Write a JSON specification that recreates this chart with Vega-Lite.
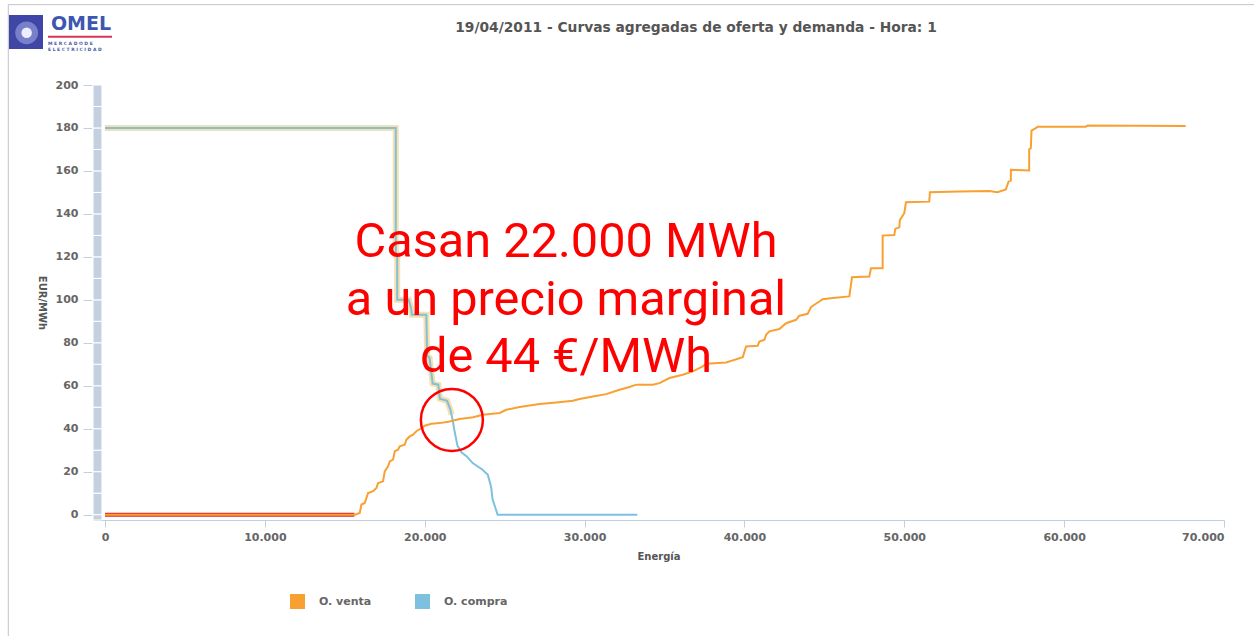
{
  "$schema": "https://vega.github.io/schema/vega-lite/v6.json",
  "width": 1131,
  "height": 435,
  "autosize": {"type": "none"},
  "padding": {"left": 93, "top": 85, "right": 30, "bottom": 116},
  "background": "white",
  "datasets": {
    "curvas": [
      {"serie": "O. venta", "energia": 0, "precio": 0},
      {"serie": "O. venta", "energia": 15625, "precio": 0},
      {"serie": "O. venta", "energia": 15937, "precio": 0.8},
      {"serie": "O. venta", "energia": 16042, "precio": 4.7},
      {"serie": "O. venta", "energia": 16250, "precio": 5.4},
      {"serie": "O. venta", "energia": 16458, "precio": 10.1},
      {"serie": "O. venta", "energia": 16771, "precio": 10.9},
      {"serie": "O. venta", "energia": 16979, "precio": 12.4},
      {"serie": "O. venta", "energia": 17083, "precio": 14.7},
      {"serie": "O. venta", "energia": 17396, "precio": 15.5},
      {"serie": "O. venta", "energia": 17500, "precio": 20.1},
      {"serie": "O. venta", "energia": 17708, "precio": 22.5},
      {"serie": "O. venta", "energia": 17812, "precio": 24.8},
      {"serie": "O. venta", "energia": 18021, "precio": 25.6},
      {"serie": "O. venta", "energia": 18125, "precio": 29.5},
      {"serie": "O. venta", "energia": 18333, "precio": 30.2},
      {"serie": "O. venta", "energia": 18437, "precio": 31.8},
      {"serie": "O. venta", "energia": 18750, "precio": 32.6},
      {"serie": "O. venta", "energia": 18854, "precio": 34.9},
      {"serie": "O. venta", "energia": 19062, "precio": 36.4},
      {"serie": "O. venta", "energia": 19271, "precio": 37.2},
      {"serie": "O. venta", "energia": 19479, "precio": 38.8},
      {"serie": "O. venta", "energia": 19792, "precio": 40.3},
      {"serie": "O. venta", "energia": 20000, "precio": 41.4},
      {"serie": "O. venta", "energia": 20417, "precio": 42.3},
      {"serie": "O. venta", "energia": 20937, "precio": 42.6},
      {"serie": "O. venta", "energia": 21562, "precio": 43.4},
      {"serie": "O. venta", "energia": 22187, "precio": 44.5},
      {"serie": "O. venta", "energia": 23021, "precio": 45.3},
      {"serie": "O. venta", "energia": 23646, "precio": 46.5},
      {"serie": "O. venta", "energia": 24687, "precio": 47.3},
      {"serie": "O. venta", "energia": 25104, "precio": 48.8},
      {"serie": "O. venta", "energia": 25937, "precio": 50.1},
      {"serie": "O. venta", "energia": 27187, "precio": 51.5},
      {"serie": "O. venta", "energia": 28229, "precio": 52.2},
      {"serie": "O. venta", "energia": 29271, "precio": 53},
      {"serie": "O. venta", "energia": 29687, "precio": 53.8},
      {"serie": "O. venta", "energia": 30521, "precio": 55},
      {"serie": "O. venta", "energia": 31354, "precio": 56.1},
      {"serie": "O. venta", "energia": 32187, "precio": 58.1},
      {"serie": "O. venta", "energia": 32812, "precio": 59.4},
      {"serie": "O. venta", "energia": 33229, "precio": 60.5},
      {"serie": "O. venta", "energia": 34271, "precio": 60.5},
      {"serie": "O. venta", "energia": 34687, "precio": 61.2},
      {"serie": "O. venta", "energia": 35312, "precio": 63.6},
      {"serie": "O. venta", "energia": 36146, "precio": 65.1},
      {"serie": "O. venta", "energia": 36771, "precio": 66.7},
      {"serie": "O. venta", "energia": 37396, "precio": 69},
      {"serie": "O. venta", "energia": 37604, "precio": 70.2},
      {"serie": "O. venta", "energia": 38854, "precio": 70.8},
      {"serie": "O. venta", "energia": 39896, "precio": 73.3},
      {"serie": "O. venta", "energia": 40104, "precio": 78.3},
      {"serie": "O. venta", "energia": 40833, "precio": 78.6},
      {"serie": "O. venta", "energia": 40937, "precio": 80.6},
      {"serie": "O. venta", "energia": 41250, "precio": 81.4},
      {"serie": "O. venta", "energia": 41354, "precio": 83.7},
      {"serie": "O. venta", "energia": 41562, "precio": 85.3},
      {"serie": "O. venta", "energia": 42187, "precio": 86.4},
      {"serie": "O. venta", "energia": 42604, "precio": 89.1},
      {"serie": "O. venta", "energia": 43229, "precio": 90.7},
      {"serie": "O. venta", "energia": 43437, "precio": 92.6},
      {"serie": "O. venta", "energia": 43958, "precio": 93.5},
      {"serie": "O. venta", "energia": 44167, "precio": 96.6},
      {"serie": "O. venta", "energia": 44375, "precio": 97.7},
      {"serie": "O. venta", "energia": 44687, "precio": 99.2},
      {"serie": "O. venta", "energia": 44896, "precio": 100.3},
      {"serie": "O. venta", "energia": 45521, "precio": 100.8},
      {"serie": "O. venta", "energia": 46562, "precio": 101.6},
      {"serie": "O. venta", "energia": 46729, "precio": 110.5},
      {"serie": "O. venta", "energia": 47812, "precio": 110.8},
      {"serie": "O. venta", "energia": 47917, "precio": 114.7},
      {"serie": "O. venta", "energia": 48646, "precio": 114.7},
      {"serie": "O. venta", "energia": 48646, "precio": 129.9},
      {"serie": "O. venta", "energia": 49375, "precio": 130.2},
      {"serie": "O. venta", "energia": 49437, "precio": 133},
      {"serie": "O. venta", "energia": 49687, "precio": 133.8},
      {"serie": "O. venta", "energia": 49729, "precio": 137.2},
      {"serie": "O. venta", "energia": 50000, "precio": 140.3},
      {"serie": "O. venta", "energia": 50104, "precio": 145.4},
      {"serie": "O. venta", "energia": 51562, "precio": 145.7},
      {"serie": "O. venta", "energia": 51604, "precio": 150.1},
      {"serie": "O. venta", "energia": 53437, "precio": 150.4},
      {"serie": "O. venta", "energia": 55312, "precio": 150.7},
      {"serie": "O. venta", "energia": 55833, "precio": 150.1},
      {"serie": "O. venta", "energia": 56354, "precio": 151.4},
      {"serie": "O. venta", "energia": 56521, "precio": 155},
      {"serie": "O. venta", "energia": 56667, "precio": 155.5},
      {"serie": "O. venta", "energia": 56667, "precio": 160.5},
      {"serie": "O. venta", "energia": 57812, "precio": 160.2},
      {"serie": "O. venta", "energia": 57812, "precio": 170.1},
      {"serie": "O. venta", "energia": 57917, "precio": 170.6},
      {"serie": "O. venta", "energia": 57958, "precio": 178.8},
      {"serie": "O. venta", "energia": 58229, "precio": 179.9},
      {"serie": "O. venta", "energia": 58333, "precio": 180.6},
      {"serie": "O. venta", "energia": 61354, "precio": 180.6},
      {"serie": "O. venta", "energia": 61458, "precio": 181.1},
      {"serie": "O. venta", "energia": 67604, "precio": 180.9},
      {"serie": "O. compra", "energia": 0, "precio": 180},
      {"serie": "O. compra", "energia": 18190, "precio": 180},
      {"serie": "O. compra", "energia": 18190, "precio": 121},
      {"serie": "O. compra", "energia": 18280, "precio": 121},
      {"serie": "O. compra", "energia": 18280, "precio": 100},
      {"serie": "O. compra", "energia": 19000, "precio": 100},
      {"serie": "O. compra", "energia": 19150, "precio": 96},
      {"serie": "O. compra", "energia": 19200, "precio": 93},
      {"serie": "O. compra", "energia": 20100, "precio": 93},
      {"serie": "O. compra", "energia": 20150, "precio": 74},
      {"serie": "O. compra", "energia": 20300, "precio": 73},
      {"serie": "O. compra", "energia": 20500, "precio": 61},
      {"serie": "O. compra", "energia": 20850, "precio": 60.5},
      {"serie": "O. compra", "energia": 20950, "precio": 54},
      {"serie": "O. compra", "energia": 21400, "precio": 53},
      {"serie": "O. compra", "energia": 21600, "precio": 49},
      {"serie": "O. compra", "energia": 21750, "precio": 44},
      {"serie": "O. compra", "energia": 21850, "precio": 39.5},
      {"serie": "O. compra", "energia": 22050, "precio": 32},
      {"serie": "O. compra", "energia": 22300, "precio": 29},
      {"serie": "O. compra", "energia": 22650, "precio": 27},
      {"serie": "O. compra", "energia": 23000, "precio": 24},
      {"serie": "O. compra", "energia": 23600, "precio": 21},
      {"serie": "O. compra", "energia": 23950, "precio": 18.5},
      {"serie": "O. compra", "energia": 24150, "precio": 13},
      {"serie": "O. compra", "energia": 24250, "precio": 7},
      {"serie": "O. compra", "energia": 24450, "precio": 2.5},
      {"serie": "O. compra", "energia": 24560, "precio": 0},
      {"serie": "O. compra", "energia": 33300, "precio": 0},
      {"serie": "Casada compra", "energia": 0, "precio": 180},
      {"serie": "Casada compra", "energia": 18190, "precio": 180},
      {"serie": "Casada compra", "energia": 18190, "precio": 121},
      {"serie": "Casada compra", "energia": 18280, "precio": 121},
      {"serie": "Casada compra", "energia": 18280, "precio": 100},
      {"serie": "Casada compra", "energia": 19000, "precio": 100},
      {"serie": "Casada compra", "energia": 19150, "precio": 96},
      {"serie": "Casada compra", "energia": 19200, "precio": 93},
      {"serie": "Casada compra", "energia": 20100, "precio": 93},
      {"serie": "Casada compra", "energia": 20150, "precio": 74},
      {"serie": "Casada compra", "energia": 20300, "precio": 73},
      {"serie": "Casada compra", "energia": 20500, "precio": 61},
      {"serie": "Casada compra", "energia": 20850, "precio": 60.5},
      {"serie": "Casada compra", "energia": 20950, "precio": 54},
      {"serie": "Casada compra", "energia": 21400, "precio": 53},
      {"serie": "Casada compra", "energia": 21600, "precio": 49},
      {"serie": "Casada compra", "energia": 21680, "precio": 46.5},
      {"serie": "Casada venta", "energia": 0, "precio": 0},
      {"serie": "Casada venta", "energia": 15600, "precio": 0}
    ],
    "banda": [
      {"lo": -2.5, "hi": 0}, {"lo": 0, "hi": 10}, {"lo": 10, "hi": 20}, {"lo": 20, "hi": 30},
      {"lo": 30, "hi": 40}, {"lo": 40, "hi": 50}, {"lo": 50, "hi": 60}, {"lo": 60, "hi": 70},
      {"lo": 70, "hi": 80}, {"lo": 80, "hi": 90}, {"lo": 90, "hi": 100}, {"lo": 100, "hi": 110},
      {"lo": 110, "hi": 120}, {"lo": 120, "hi": 130}, {"lo": 130, "hi": 140}, {"lo": 140, "hi": 150},
      {"lo": 150, "hi": 160}, {"lo": 160, "hi": 170}, {"lo": 170, "hi": 180}, {"lo": 180, "hi": 190},
      {"lo": 190, "hi": 200}
    ]
  },
  "data": {"name": "curvas"},
  "layer": [
    {
      "data": {"name": "banda"},
      "mark": {"type": "rect", "fill": "#c2d0df", "stroke": "white", "strokeWidth": 1},
      "encoding": {
        "x": {"datum": -750, "type": "quantitative"},
        "x2": {"datum": -190},
        "y": {"field": "lo", "type": "quantitative"},
        "y2": {"field": "hi"}
      }
    },
    {
      "transform": [{"filter": "datum.serie === 'Casada compra'"}],
      "mark": {"type": "line", "stroke": "#f9dfae", "strokeWidth": 6, "interpolate": "linear"},
      "encoding": {
        "x": {"field": "energia", "type": "quantitative"},
        "y": {"field": "precio", "type": "quantitative"},
        "order": {"value": null}
      }
    },
    {
      "transform": [{"filter": "datum.serie === 'O. compra'"}],
      "mark": {"type": "line", "strokeWidth": 2, "interpolate": "linear"},
      "encoding": {
        "x": {"field": "energia", "type": "quantitative"},
        "y": {"field": "precio", "type": "quantitative"},
        "color": {"field": "serie", "type": "nominal"},
        "order": {"value": null}
      }
    },
    {
      "transform": [{"filter": "datum.serie === 'Casada venta'"}],
      "mark": {"type": "line", "stroke": "#d7262b", "strokeWidth": 4},
      "encoding": {
        "x": {"field": "energia", "type": "quantitative"},
        "y": {"field": "precio", "type": "quantitative"},
        "order": {"value": null}
      }
    },
    {
      "transform": [{"filter": "datum.serie === 'O. venta'"}],
      "mark": {"type": "line", "strokeWidth": 2, "interpolate": "linear"},
      "encoding": {
        "x": {
          "field": "energia", "type": "quantitative",
          "scale": {"domain": [-750, 70000], "nice": false, "zero": false},
          "axis": {
            "title": "Energía",
            "values": [0, 10000, 20000, 30000, 40000, 50000, 60000, 70000],
            "format": ",d",
            "domainColor": "#c0d0e0",
            "tickColor": "#c0d0e0",
            "tickSize": 7,
            "labelPadding": 4,
            "titlePadding": 9
          }
        },
        "y": {
          "field": "precio", "type": "quantitative",
          "scale": {"domain": [-2.5, 200], "nice": false, "zero": false},
          "axis": {
            "title": "EUR/MWh",
            "values": [0, 20, 40, 60, 80, 100, 120, 140, 160, 180, 200],
            "format": "d",
            "domain": false,
            "tickColor": "#c0d0e0",
            "tickSize": 9,
            "offset": 1,
            "labelPadding": 5,
            "titleAngle": 90,
            "titlePadding": 19
          }
        },
        "color": {
          "field": "serie", "type": "nominal",
          "scale": {"domain": ["O. venta", "O. compra"], "range": ["#f9a032", "#7cc2df"]},
          "legend": {
            "title": null,
            "orient": "none",
            "legendX": 197,
            "legendY": 509,
            "direction": "horizontal",
            "symbolType": "square",
            "symbolSize": 225,
            "labelOffset": 14,
            "columnPadding": 43,
            "padding": 0,
            "encode": {
              "symbols": {"update": {"fill": {"scale": "color", "field": "value"}, "strokeWidth": {"value": 0}}}
            }
          }
        },
        "order": {"value": null}
      }
    },
    {
      "data": {"values": [{}]},
      "mark": {"type": "point", "shape": "circle", "filled": false, "stroke": "#ff0000", "strokeWidth": 2.5, "size": 3844, "opacity": 1},
      "encoding": {
        "x": {"datum": 21700, "type": "quantitative"},
        "y": {"datum": 44.1, "type": "quantitative"}
      }
    },
    {
      "data": {"values": [{}]},
      "mark": {"type": "text", "text": "Casan 22.000 MWh\na un precio marginal\nde 44 €/MWh", "lineBreak": "\n", "font": "Roboto", "fontSize": 48.7, "lineHeight": 57.5, "color": "#ff0000", "align": "center", "baseline": "middle"},
      "encoding": {
        "x": {"datum": 28840, "type": "quantitative"},
        "y": {"datum": 126.8, "type": "quantitative"}
      }
    },
    {
      "data": {"values": [{}]},
      "mark": {"type": "text", "text": "19/04/2011 - Curvas agregadas de oferta y demanda - Hora: 1", "font": "DejaVu Sans", "fontWeight": "bold", "fontSize": 13.8, "color": "#555555", "align": "center", "baseline": "middle"},
      "encoding": {
        "x": {"datum": 36971, "type": "quantitative"},
        "y": {"datum": 226.5, "type": "quantitative"}
      }
    },
    {
      "data": {"values": [{}]},
      "mark": {"type": "rule", "stroke": "#c4c4c4", "strokeWidth": 1},
      "encoding": {
        "x": {"datum": -6048, "type": "quantitative"},
        "x2": {"datum": 72000},
        "y": {"datum": 237.4, "type": "quantitative"}
      }
    },
    {
      "data": {"values": [{}]},
      "mark": {"type": "rule", "stroke": "#c4c4c4", "strokeWidth": 1},
      "encoding": {
        "x": {"datum": -6048, "type": "quantitative"},
        "y": {"datum": 237.4, "type": "quantitative"},
        "y2": {"datum": -60}
      }
    },
    {
      "data": {"values": [{}]},
      "mark": {"type": "point", "shape": "square", "filled": true, "fill": "#3f46a6", "size": 1156, "opacity": 1, "strokeWidth": 0},
      "encoding": {
        "x": {"datum": -4941, "type": "quantitative"},
        "y": {"datum": 224.7, "type": "quantitative"}
      }
    },
    {
      "data": {"values": [{}]},
      "mark": {"type": "point", "shape": "circle", "filled": true, "fill": "#9298dc", "size": 520, "opacity": 0.7, "strokeWidth": 0},
      "encoding": {
        "x": {"datum": -4900, "type": "quantitative"},
        "y": {"datum": 224.3, "type": "quantitative"}
      }
    },
    {
      "data": {"values": [{}]},
      "mark": {"type": "point", "shape": "circle", "filled": true, "fill": "#f2f3ff", "size": 110, "opacity": 0.95, "strokeWidth": 0},
      "encoding": {
        "x": {"datum": -4900, "type": "quantitative"},
        "y": {"datum": 224.3, "type": "quantitative"}
      }
    },
    {
      "data": {"values": [{}]},
      "mark": {"type": "text", "text": "OMEL", "font": "DejaVu Sans", "fontWeight": "bold", "fontSize": 19, "color": "#3d57b0", "align": "center", "baseline": "middle"},
      "encoding": {
        "x": {"datum": -1500, "type": "quantitative"},
        "y": {"datum": 228.4, "type": "quantitative"}
      }
    },
    {
      "data": {"values": [{}]},
      "mark": {"type": "rule", "stroke": "#d6335a", "strokeWidth": 2},
      "encoding": {
        "x": {"datum": -3565, "type": "quantitative"},
        "x2": {"datum": 439},
        "y": {"datum": 222.5, "type": "quantitative"}
      }
    },
    {
      "data": {"values": [{}]},
      "mark": {"type": "text", "text": "M E R C A D O   D E", "font": "DejaVu Sans", "fontWeight": "bold", "fontSize": 4.5, "color": "#4a5aa8", "align": "left", "baseline": "middle"},
      "encoding": {
        "x": {"datum": -3565, "type": "quantitative"},
        "y": {"datum": 218.9, "type": "quantitative"}
      }
    },
    {
      "data": {"values": [{}]},
      "mark": {"type": "text", "text": "E L E C T R I C I D A D", "font": "DejaVu Sans", "fontWeight": "bold", "fontSize": 4.5, "color": "#4a5aa8", "align": "left", "baseline": "middle"},
      "encoding": {
        "x": {"datum": -3565, "type": "quantitative"},
        "y": {"datum": 216.3, "type": "quantitative"}
      }
    }
  ],
  "config": {
    "locale": {"number": {"decimal": ",", "thousands": ".", "grouping": [3], "currency": ["", " €"]}},
    "view": {"stroke": null},
    "axis": {
      "grid": false,
      "labelFont": "DejaVu Sans",
      "labelFontWeight": "bold",
      "labelFontSize": 11,
      "labelColor": "#666666",
      "titleFont": "DejaVu Sans",
      "titleFontWeight": "bold",
      "titleFontSize": 10,
      "titleColor": "#555555"
    },
    "legend": {
      "labelFont": "DejaVu Sans",
      "labelFontWeight": "bold",
      "labelFontSize": 11,
      "labelColor": "#666666"
    }
  }
}
